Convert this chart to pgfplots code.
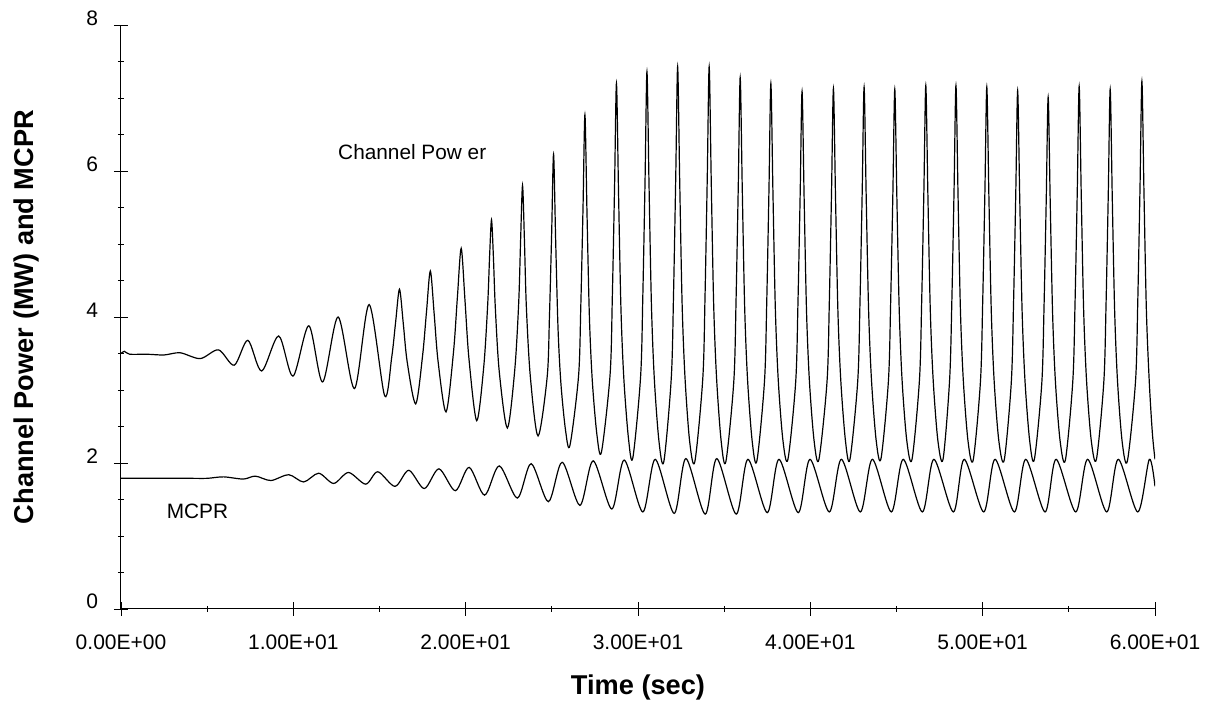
\documentclass[border=0pt]{standalone}
\usepackage{pgfplots}
\pgfplotsset{compat=1.18}
\usepackage{fontspec}
\setmainfont{Liberation Sans}
\begin{document}
\begin{tikzpicture}
\path[use as bounding box] (-60.5pt,-48.5pt) rectangle (542pt,304.5pt);
\begin{axis}[
  at={(0,0)}, anchor=south west,
  scale only axis, width=517pt, height=292pt,
  xmin=0, xmax=60, ymin=0, ymax=8,
  axis lines=left, axis line style={-, line width=0.5pt},
  xtick={0,10,20,30,40,50,60},
  xticklabels={0.00E+00,1.00E+01,2.00E+01,3.00E+01,4.00E+01,5.00E+01,6.00E+01},
  minor x tick num=1,
  ytick={0,2,4,6,8}, yticklabels={0,2,4,6,8},
  minor y tick num=3,
  tick align=center,
  major tick length=7pt, minor tick length=3pt,
  tick style={black, line width=0.4pt},
  xticklabel style={font=\fontsize{10.5}{12}\selectfont, yshift=-6pt},
  yticklabel style={font=\fontsize{10.5}{12}\selectfont, anchor=base east, xshift=-4.5pt},
  xlabel={Time (sec)},
  ylabel={Channel Power (MW) and MCPR},
  xlabel style={font=\bfseries\fontsize{13.6}{16}\selectfont, at={(axis description cs:0.5,-0.135)}, anchor=center},
  ylabel style={font=\bfseries\fontsize{13.6}{16}\selectfont, at={(axis description cs:-0.0919,0.5)}, anchor=center},
]
% channel power
\addplot[black, line width=0.6pt, smooth, tension=0.5] coordinates {
(0,3.50) (0.2,3.53) (0.5,3.49) (1.5,3.49) (2.5,3.48) (3.43,3.51) (4.6,3.43)
(5.66,3.55) (6.57,3.34) (7.36,3.68) (8.16,3.26) (9.15,3.74) (9.98,3.19)
(10.9,3.88) (11.7,3.11) (12.6,4.00) (13.55,3.02) (14.4,4.17) (15.3,2.92)
(15.71,3.45) (15.94,3.94) (16.16,4.38) (16.38,3.91) (16.61,3.38) (17.1,2.81)
(17.50,3.47) (17.73,4.08) (17.95,4.63) (18.17,4.05) (18.40,3.39) (18.86,2.70)
(19.29,3.51) (19.52,4.27) (19.74,4.94) (19.96,4.23) (20.19,3.43) (20.64,2.58)
(21.05,3.32) (21.28,4.18) (21.39,4.84) (21.5,5.33) (21.61,4.82) (21.72,4.13) (21.95,3.25) (22.42,2.48)
(22.85,3.28) (23.08,4.21) (23.19,5.07) (23.3,5.80) (23.41,5.05) (23.52,4.15) (23.75,3.19) (24.2,2.37)
(24.73,3.18) (24.86,3.99) (24.99,5.15) (25.1,6.23) (25.22,5.07) (25.36,3.84) (25.53,3.08) (25.8,2.44) (26.05,2.24)
(26.55,3.19) (26.68,4.14) (26.81,5.50) (26.92,6.77) (27.04,5.43) (27.18,4.00) (27.35,3.12) (27.62,2.38) (27.88,2.15)
(28.38,3.21) (28.51,4.27) (28.64,5.79) (28.75,7.20) (28.87,5.71) (29.01,4.12) (29.18,3.15) (29.45,2.33) (29.7,2.07)
(30.15,3.18) (30.28,4.29) (30.41,5.88) (30.52,7.36) (30.64,5.81) (30.78,4.16) (30.95,3.14) (31.22,2.29) (31.5,2.02)
(31.93,3.16) (32.06,4.29) (32.19,5.92) (32.30,7.43) (32.42,5.86) (32.56,4.18) (32.73,3.16) (33.0,2.29) (33.3,2.02)
(33.76,3.16) (33.89,4.29) (34.02,5.92) (34.13,7.43) (34.25,5.86) (34.39,4.18) (34.56,3.16) (34.83,2.29) (35.1,2.02)
(35.56,3.12) (35.69,4.23) (35.82,5.81) (35.93,7.28) (36.05,5.76) (36.19,4.13) (36.36,3.13) (36.63,2.29) (36.9,2.03)
(37.34,3.12) (37.47,4.20) (37.60,5.75) (37.71,7.20) (37.83,5.71) (37.97,4.11) (38.14,3.13) (38.41,2.31) (38.7,2.05)
(39.15,3.11) (39.28,4.17) (39.41,5.68) (39.52,7.09) (39.64,5.63) (39.78,4.07) (39.95,3.11) (40.22,2.30) (40.5,2.05)
(40.97,3.12) (41.10,4.18) (41.23,5.71) (41.34,7.13) (41.46,5.66) (41.60,4.08) (41.77,3.12) (42.04,2.30) (42.3,2.05)
(42.75,3.12) (42.88,4.19) (43.01,5.72) (43.12,7.15) (43.24,5.67) (43.38,4.10) (43.55,3.13) (43.82,2.31) (44.1,2.06)
(44.53,3.12) (44.66,4.19) (44.79,5.70) (44.9,7.12) (45.02,5.65) (45.16,4.08) (45.33,3.11) (45.6,2.30) (45.9,2.05)
(46.33,3.13) (46.46,4.20) (46.59,5.74) (46.7,7.17) (46.82,5.69) (46.96,4.10) (47.13,3.13) (47.4,2.31) (47.7,2.05)
(48.08,3.13) (48.21,4.20) (48.34,5.74) (48.45,7.17) (48.57,5.68) (48.71,4.09) (48.88,3.12) (49.15,2.30) (49.45,2.04)
(49.87,3.11) (50.0,4.19) (50.13,5.72) (50.24,7.15) (50.36,5.67) (50.50,4.08) (50.67,3.11) (50.94,2.30) (51.25,2.04)
(51.66,3.10) (51.79,4.17) (51.92,5.68) (52.03,7.10) (52.15,5.64) (52.29,4.07) (52.46,3.11) (52.73,2.30) (53.0,2.05)
(53.43,3.09) (53.56,4.13) (53.69,5.62) (53.8,7.01) (53.92,5.57) (54.06,4.03) (54.23,3.08) (54.5,2.29) (54.8,2.04)
(55.23,3.12) (55.36,4.19) (55.49,5.73) (55.6,7.16) (55.72,5.68) (55.86,4.09) (56.03,3.12) (56.3,2.31) (56.6,2.05)
(57.03,3.11) (57.16,4.18) (57.29,5.70) (57.4,7.12) (57.52,5.64) (57.66,4.07) (57.83,3.10) (58.1,2.28) (58.4,2.03)
(58.87,3.12) (59.0,4.21) (59.13,5.77) (59.24,7.23) (59.36,5.71) (59.50,4.09) (59.67,3.10) (59.85,2.40) (60,2.05)
};
% MCPR
\addplot[black, line width=0.6pt, smooth, tension=0.5] coordinates {
(0,1.79) (2,1.79) (4,1.79) (5.0,1.79) (5.95,1.81) (7.1,1.78) (7.8,1.82) (8.7,1.76)
(9.73,1.84) (10.6,1.74) (11.47,1.86) (12.34,1.72) (13.2,1.87) (14.2,1.71) (14.9,1.88)
(15.9,1.68) (16.7,1.90) (17.6,1.65) (18.45,1.92) (19.4,1.62) (20.2,1.94) (21.1,1.56)
(21.95,1.96) (23.0,1.52) (23.8,1.99) (24.8,1.47) (25.6,2.01) (26.63,1.42) (27.4,2.03)
(28.48,1.37) (29.2,2.04) (30.28,1.33) (31.0,2.05) (32.1,1.31) (32.78,2.06) (33.9,1.30)
(34.57,2.06) (35.7,1.30) (36.38,2.05) (37.5,1.32) (38.18,2.05) (39.3,1.32) (39.98,2.05)
(41.1,1.33) (41.8,2.05) (42.9,1.33) (43.6,2.05) (44.7,1.33) (45.39,2.05) (46.5,1.33)
(47.17,2.05) (48.3,1.33) (48.93,2.05) (50.06,1.33) (50.72,2.05) (51.84,1.33) (52.5,2.05)
(53.62,1.33) (54.26,2.05) (55.4,1.33) (56.09,2.05) (57.2,1.33) (57.87,2.05) (59.0,1.33)
(59.67,2.05) (60,1.68)
};
\node[font=\fontsize{10.4}{12}\selectfont] at (axis cs:16.9,6.26) {Channel Pow er};
\node[font=\fontsize{10.4}{12}\selectfont] at (axis cs:4.44,1.34) {MCPR};
\end{axis}
\end{tikzpicture}
\end{document}
